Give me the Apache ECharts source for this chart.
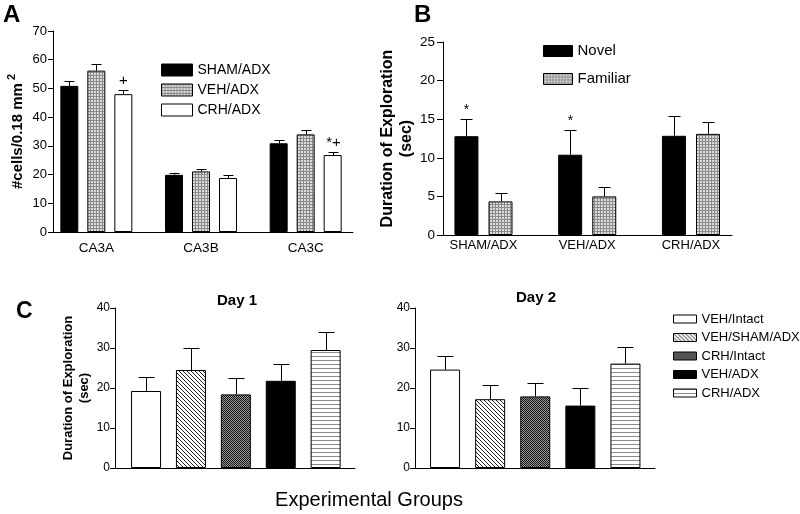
<!DOCTYPE html>
<html>
<head>
<meta charset="utf-8">
<script src="https://cdn.jsdelivr.net/npm/echarts@6/dist/echarts.min.js"></script>
<style>
html,body{margin:0;padding:0;background:#fff;}
#chart{width:800px;height:514px;}
</style>
</head>
<body>
<div id="chart"></div>
<script>
// ---------------- DATA ----------------
const categoriesA = ['CA3A', 'CA3B', 'CA3C'];
const namesA = ['SHAM/ADX', 'VEH/ADX', 'CRH/ADX'];
const shamAdxA = [50.9, 19.9, 30.9];
const shamAdxErrA = [52.6, 20.6, 32.2];
const vehAdxA = [56.2, 21.1, 34.0];
const vehAdxErrA = [58.4, 21.9, 35.6];
const crhAdxA = [48.0, 18.8, 26.8];
const crhAdxErrA = [49.5, 19.7, 28.0];
const shamMarksA = ['', '', ''];
const vehMarksA = ['', '', ''];
const crhMarksA = ['+', '', '*+'];
const ticksA = {min: 0, max: 70, interval: 10};

const categoriesB = ['SHAM/ADX', 'VEH/ADX', 'CRH/ADX'];
const namesB = ['Novel', 'Familiar'];
const novelB = [12.8, 10.4, 12.85];
const novelErrB = [15.0, 13.6, 15.4];
const familiarB = [4.35, 5.0, 13.1];
const familiarErrB = [5.5, 6.2, 14.7];
const novelMarksB = ['*', '*', ''];
const familiarMarksB = ['', '', ''];
const ticksB = {min: 0, max: 25, interval: 5};

const groupsC = ['VEH/Intact', 'VEH/SHAM/ADX', 'CRH/Intact', 'VEH/ADX', 'CRH/ADX'];
const day1C = [19.25, 24.5, 18.4, 21.8, 29.5];
const day1ErrC = [22.8, 30.0, 22.4, 25.9, 34.0];
const day2C = [24.6, 17.2, 17.9, 15.6, 26.1];
const day2ErrC = [27.9, 20.7, 21.2, 19.9, 30.2];
const ticksC = {min: 0, max: 40, interval: 10};

// ---------------- STYLE ----------------
const FONT = '"Liberation Sans", Arial, Helvetica, sans-serif';

function tile(w, h, bg, pixels) {
  const c = document.createElement('canvas');
  c.width = w; c.height = h;
  const ctx = c.getContext('2d');
  ctx.fillStyle = bg; ctx.fillRect(0, 0, w, h);
  pixels.forEach(p => { ctx.fillStyle = p[2]; ctx.fillRect(p[0], p[1], 1, 1); });
  return c;
}
function checkTile() {
  const px = [];
  for (let i = 0; i < 3; i++) { px.push([i, 0, '#8a8a8a']); px.push([0, i, '#8a8a8a']); }
  return {image: tile(3, 3, '#dcdcdc', px), repeat: 'repeat'};
}
function diagTile() {
  const px = [];
  for (let i = 0; i < 4; i++) px.push([i, i, '#222']);
  return {image: tile(4, 4, '#ffffff', px), repeat: 'repeat'};
}
function denseTile() {
  return {image: tile(2, 2, '#9a9a9a', [[0, 0, '#111'], [1, 1, '#111']]), repeat: 'repeat'};
}
function hlineTile() {
  return {image: tile(1, 4, '#ffffff', [[0, 0, '#8a8a8a']]), repeat: 'repeat'};
}
const fillsA = ['#000000', checkTile(), '#ffffff'];
const fillsB = ['#000000', checkTile()];
const fillsC = ['#ffffff', diagTile(), denseTile(), '#000000', hlineTile()];

// ---------------- LAYOUT HELPERS ----------------
function frameAxes(gi, ticks, fs, margin, tickLen, name, nameStyle, nameGap) {
  return {
    x: {type: 'value', gridIndex: gi, min: 0, max: 1, show: true,
        axisLine: {show: true, lineStyle: {color: '#000', width: 1}},
        axisTick: {show: false}, axisLabel: {show: false}, splitLine: {show: false}},
    y: {type: 'value', gridIndex: gi, min: ticks.min, max: ticks.max, interval: ticks.interval,
        axisLine: {show: true, lineStyle: {color: '#000', width: 1}},
        axisTick: {show: true, length: tickLen, lineStyle: {color: '#000'}},
        axisLabel: {color: '#000', fontSize: fs, fontFamily: FONT, margin: margin},
        splitLine: {show: false},
        name: name, nameLocation: 'middle', nameRotate: 90, nameGap: nameGap,
        nameTextStyle: nameStyle}
  };
}
function barAxes(gi, cats, ticks, showLabels, fs, margin) {
  return {
    x: {type: 'category', gridIndex: gi, data: cats,
        axisLine: {show: false}, axisTick: {show: false},
        axisLabel: {show: showLabels, color: '#000', fontSize: fs, fontFamily: FONT, margin: margin, interval: 0}},
    y: {type: 'value', gridIndex: gi, min: ticks.min, max: ticks.max, interval: ticks.interval, show: false}
  };
}
function errSeries(ai, vals, ups, offset, capW, marks, markFont) {
  return {
    type: 'custom', xAxisIndex: ai, yAxisIndex: ai, z: 5, silent: true,
    data: vals.map((v, j) => [j, v, ups[j]]),
    renderItem: function (params, api) {
      const base = api.coord([api.value(0), api.value(1)]);
      const top = api.coord([api.value(0), api.value(2)]);
      const x = Math.round(base[0] + offset) + 0.5;
      const yb = base[1];
      const yt = Math.round(top[1]) + 0.5;
      const ch = [
        {type: 'line', shape: {x1: x, y1: yb, x2: x, y2: yt}, style: {stroke: '#000', lineWidth: 1}},
        {type: 'line', shape: {x1: x - capW / 2, y1: yt, x2: x + capW / 2, y2: yt}, style: {stroke: '#000', lineWidth: 1}}
      ];
      const m = marks ? marks[params.dataIndex] : '';
      if (m) ch.push({type: 'text', x: x, y: yt - 2,
        style: {text: m, align: 'center', verticalAlign: 'bottom', font: markFont, fill: '#000'}});
      return {type: 'group', children: ch};
    }
  };
}

// ---------------- GRIDS ----------------
const grids = [
  {left: 53, top: 31, width: 300, height: 201},      // A frame
  {left: 44, top: 31, width: 314, height: 201},      // A bars
  {left: 443, top: 42, width: 289, height: 193},     // B frame
  {left: 431.6, top: 42, width: 311.25, height: 193},// B bars
  {left: 115, top: 308, width: 240, height: 160},    // C day1 frame
  {left: 123.6, top: 308, width: 224.5, height: 160},// C day1 bars
  {left: 415, top: 308, width: 240, height: 160},    // C day2 frame
  {left: 422.5, top: 308, width: 225.5, height: 160} // C day2 bars
];

const nameA = {fontFamily: FONT, fontSize: 15, fontWeight: 'bold', color: '#000', lineHeight: 22,
  rich: {s: {fontFamily: FONT, fontSize: 11, fontWeight: 'bold', color: '#000', verticalAlign: 'top', lineHeight: 22, padding: [0, 0, 0, 3]}}};
const nameB = {fontFamily: FONT, fontSize: 16, fontWeight: 'bold', color: '#000', lineHeight: 19, align: 'center'};
const nameC = {fontFamily: FONT, fontSize: 13, fontWeight: 'bold', color: '#000', lineHeight: 16, align: 'center'};

const fA = frameAxes(0, ticksA, 13, 6, 5, '#cells/0.18 mm{s|2}', nameA, 23);
const bA = barAxes(1, categoriesA, ticksA, true, 13.5, 9);
const fB = frameAxes(2, ticksB, 13.5, 8, 6, 'Duration of Exploration\n(sec)', nameB, 26);
const bB = barAxes(3, categoriesB, ticksB, true, 13, 4);
const fC1 = frameAxes(4, ticksC, 12, 5, 5, 'Duration of Exploration\n(sec)', nameC, 20);
const bC1 = barAxes(5, groupsC, ticksC, false, 12, 5);
const fC2 = frameAxes(6, ticksC, 12, 5, 5, '', nameC, 21);
const bC2 = barAxes(7, groupsC, ticksC, false, 12, 5);
const axesList = [fA, bA, fB, bB, fC1, bC1, fC2, bC2];

// ---------------- SERIES ----------------
const series = [];
const border = {borderColor: '#000', borderWidth: 1};
// Panel A
const valsA = [shamAdxA, vehAdxA, crhAdxA];
const errsA = [shamAdxErrA, vehAdxErrA, crhAdxErrA];
const marksA = [shamMarksA, vehMarksA, crhMarksA];
namesA.forEach((n, i) => {
  series.push({type: 'bar', name: 'A|' + n, xAxisIndex: 1, yAxisIndex: 1, data: valsA[i],
    barWidth: 18, barGap: '50%', itemStyle: Object.assign({color: fillsA[i]}, border), silent: true});
});
namesA.forEach((n, i) => {
  series.push(errSeries(1, valsA[i], errsA[i], (i - 1) * 27, 10, marksA[i], '15px ' + FONT));
});
// Panel B
const valsB = [novelB, familiarB];
const errsB = [novelErrB, familiarErrB];
const marksB = [novelMarksB, familiarMarksB];
namesB.forEach((n, i) => {
  series.push({type: 'bar', name: 'B|' + n, xAxisIndex: 3, yAxisIndex: 3, data: valsB[i],
    barWidth: 24, barGap: '42%', itemStyle: Object.assign({color: fillsB[i]}, border), silent: true});
});
namesB.forEach((n, i) => {
  series.push(errSeries(3, valsB[i], errsB[i], i === 0 ? -17.04 : 17.04, 12, marksB[i], '14px ' + FONT));
});
// Panel C
[[5, day1C, day1ErrC], [7, day2C, day2ErrC]].forEach(([ai, vals, errs]) => {
  groupsC.forEach((g, k) => {
    series.push({type: 'bar', name: 'C|' + g, xAxisIndex: ai, yAxisIndex: ai,
      data: groupsC.map((_, j) => (j === k ? vals[k] : '-')),
      barWidth: 30, barGap: '-100%', itemStyle: Object.assign({color: fillsC[k]}, border), silent: true});
  });
  series.push(errSeries(ai, vals, errs, 0, 16, null, ''));
});

const strip = n => n.split('|')[1];
const option = {
  animation: false,
  backgroundColor: '#ffffff',
  grid: grids,
  xAxis: axesList.map(a => a.x),
  yAxis: axesList.map(a => a.y),
  legend: [
    {data: namesA.map(n => 'A|' + n), orient: 'vertical', left: 161, top: 60, padding: 0, itemWidth: 31, itemHeight: 12,
     itemGap: 0, formatter: strip, icon: 'rect', selectedMode: false,
     itemStyle: {borderColor: '#000', borderWidth: 1},
     textStyle: {fontFamily: FONT, fontSize: 14, color: '#000', lineHeight: 20}},
    {data: namesB.map(n => 'B|' + n), orient: 'vertical', left: 543, top: 37, padding: 0, itemWidth: 29, itemHeight: 11,
     itemGap: 0, formatter: strip, icon: 'rect', selectedMode: false,
     itemStyle: {borderColor: '#000', borderWidth: 1},
     textStyle: {fontFamily: FONT, fontSize: 15, color: '#000', lineHeight: 28}},
    {data: groupsC.map(n => 'C|' + n), orient: 'vertical', left: 673, top: 310, padding: 0, itemWidth: 23, itemHeight: 8,
     itemGap: 0.5, formatter: strip, icon: 'rect', selectedMode: false,
     itemStyle: {borderColor: '#000', borderWidth: 1},
     textStyle: {fontFamily: FONT, fontSize: 13, color: '#000', lineHeight: 18}}
  ],
  graphic: [
    {type: 'text', x: 3, y: 3, style: {text: 'A', font: 'bold 24px ' + FONT, fill: '#000'}},
    {type: 'text', x: 414, y: 3, style: {text: 'B', font: 'bold 24px ' + FONT, fill: '#000'}},
    {type: 'text', x: 16, y: 300, style: {text: 'C', font: 'bold 23px ' + FONT, fill: '#000'}},
    {type: 'text', x: 237, y: 301, style: {text: 'Day 1', font: 'bold 15px ' + FONT, fill: '#000', align: 'center', verticalAlign: 'middle'}},
    {type: 'text', x: 536, y: 298, style: {text: 'Day 2', font: 'bold 15px ' + FONT, fill: '#000', align: 'center', verticalAlign: 'middle'}},
    {type: 'text', x: 369, y: 500, style: {text: 'Experimental Groups', font: '20px ' + FONT, fill: '#000', align: 'center', verticalAlign: 'middle'}}
  ],
  series: series
};

const chart = echarts.init(document.getElementById('chart'), null, {renderer: 'canvas'});
chart.setOption(option);
</script>
</body>
</html>
